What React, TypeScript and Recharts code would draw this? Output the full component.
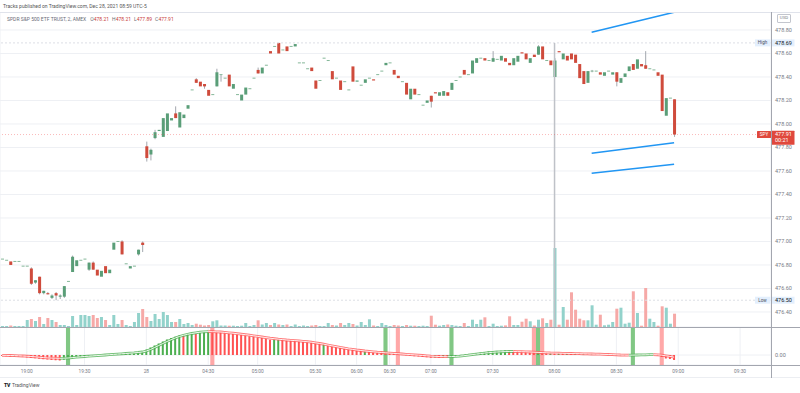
import React from 'react';
import { ComposedChart, Bar, Line, XAxis, YAxis, CartesianGrid, ReferenceLine, ReferenceArea, Cell } from 'recharts';

// ---------- DATA ----------
const OPEN = [
  476.85, 476.84, 476.83, 476.83, 476.83, 476.79, 476.79, 476.77, 476.65, 476.70,
  476.56, 476.56, 476.52, 476.56, 476.53, 476.53, 476.66, 476.74, 476.79, 476.84,
  476.85, 476.76, 476.82, 476.76, 476.70, 476.79, 476.73, 476.93, 477.00, 477.00,
  476.81, 476.77, 476.79, 476.89, 476.99, 477.81, 477.74, 477.88, 477.94, 477.89,
  477.94, 478.03, 478.09, 477.97, 478.05, 478.13, 478.29, 478.38, 478.36, 478.34,
  478.29, 478.25, 478.32, 478.42, 478.39, 478.42, 478.30, 478.25, 478.20, 478.25,
  478.30, 478.39, 478.46, 478.43, 478.50, 478.62, 478.66, 478.69, 478.63, 478.66,
  478.66, 478.66, 478.52, 478.52, 478.47, 478.48, 478.37, 478.37, 478.56, 478.54,
  478.45, 478.39, 478.37, 478.36, 478.29, 478.49, 478.36, 478.33, 478.35, 478.39,
  478.38, 478.42, 478.45, 478.50, 478.52, 478.46, 478.41, 478.36, 478.35, 478.21,
  478.30, 478.25, 478.16, 478.18, 478.24, 478.27, 478.24, 478.24, 478.27, 478.29,
  478.37, 478.40, 478.46, 478.42, 478.43, 478.52, 478.56, 478.56, 478.54, 478.53,
  478.55, 478.54, 478.56, 478.52, 478.50, 478.53, 478.61, 478.60, 478.52, 478.59,
  478.59, 478.66, 478.54, 478.54, 478.40, 478.62, 478.55, 478.58, 478.60, 478.59,
  478.51, 478.45, 478.35, 478.45, 478.45, 478.44, 478.41, 478.45, 478.42, 478.44,
  478.35, 478.40, 478.45, 478.51, 478.47, 478.51, 478.50, 478.47, 478.46, 478.44,
  478.42, 478.07, 478.22, 478.21,
];
const HIGH = [
  476.85, 476.84, 476.83, 476.83, 476.83, 476.79, 476.79, 476.78, 476.67, 476.70,
  476.58, 476.57, 476.55, 476.57, 476.55, 476.62, 476.66, 476.88, 476.84, 476.84,
  476.85, 476.82, 476.83, 476.76, 476.75, 476.79, 476.76, 476.99, 477.00, 477.01,
  476.81, 476.79, 476.79, 476.93, 477.00, 477.85, 477.79, 477.95, 477.95, 478.05,
  478.09, 478.05, 478.15, 478.10, 478.08, 478.16, 478.29, 478.39, 478.36, 478.34,
  478.29, 478.25, 478.47, 478.42, 478.39, 478.42, 478.34, 478.25, 478.25, 478.31,
  478.30, 478.39, 478.48, 478.48, 478.50, 478.62, 478.66, 478.69, 478.63, 478.66,
  478.66, 478.68, 478.52, 478.52, 478.47, 478.48, 478.37, 478.37, 478.56, 478.54,
  478.45, 478.39, 478.37, 478.36, 478.29, 478.49, 478.37, 478.33, 478.38, 478.39,
  478.38, 478.42, 478.45, 478.52, 478.52, 478.46, 478.41, 478.36, 478.35, 478.30,
  478.30, 478.25, 478.16, 478.20, 478.24, 478.27, 478.27, 478.28, 478.27, 478.35,
  478.37, 478.40, 478.46, 478.42, 478.54, 478.56, 478.56, 478.56, 478.54, 478.62,
  478.55, 478.58, 478.56, 478.52, 478.56, 478.58, 478.61, 478.60, 478.56, 478.59,
  478.67, 478.66, 478.54, 478.54, 478.56, 478.62, 478.60, 478.58, 478.60, 478.59,
  478.51, 478.45, 478.45, 478.46, 478.45, 478.44, 478.44, 478.45, 478.44, 478.44,
  478.39, 478.43, 478.49, 478.51, 478.55, 478.51, 478.62, 478.47, 478.46, 478.44,
  478.42, 478.22, 478.22, 478.21,
];
const LOW = [
  476.85, 476.84, 476.80, 476.83, 476.83, 476.79, 476.79, 476.63, 476.64, 476.55,
  476.55, 476.55, 476.51, 476.50, 476.51, 476.52, 476.66, 476.74, 476.79, 476.84,
  476.85, 476.75, 476.76, 476.71, 476.70, 476.73, 476.73, 476.93, 477.00, 476.89,
  476.81, 476.77, 476.79, 476.88, 476.91, 477.68, 477.69, 477.87, 477.94, 477.89,
  477.94, 478.03, 478.05, 477.97, 478.05, 478.13, 478.29, 478.35, 478.32, 478.30,
  478.24, 478.25, 478.32, 478.36, 478.39, 478.32, 478.30, 478.25, 478.20, 478.25,
  478.30, 478.39, 478.43, 478.43, 478.50, 478.60, 478.66, 478.60, 478.63, 478.62,
  478.66, 478.66, 478.52, 478.52, 478.47, 478.45, 478.30, 478.37, 478.56, 478.54,
  478.38, 478.39, 478.29, 478.36, 478.29, 478.36, 478.36, 478.33, 478.35, 478.39,
  478.37, 478.42, 478.45, 478.50, 478.52, 478.42, 478.39, 478.36, 478.25, 478.21,
  478.25, 478.25, 478.16, 478.18, 478.14, 478.26, 478.24, 478.24, 478.24, 478.29,
  478.37, 478.40, 478.42, 478.42, 478.43, 478.52, 478.56, 478.54, 478.54, 478.53,
  478.55, 478.54, 478.53, 478.50, 478.50, 478.53, 478.60, 478.55, 478.52, 478.57,
  478.59, 478.55, 478.54, 478.50, 478.40, 478.61, 478.55, 478.54, 478.55, 478.52,
  478.39, 478.34, 478.35, 478.44, 478.45, 478.42, 478.41, 478.45, 478.42, 478.32,
  478.35, 478.40, 478.45, 478.46, 478.47, 478.49, 478.47, 478.47, 478.46, 478.41,
  478.11, 478.07, 478.22, 477.89,
];
const CLOSE = [
  476.85, 476.84, 476.80, 476.83, 476.83, 476.79, 476.79, 476.64, 476.67, 476.56,
  476.58, 476.55, 476.54, 476.54, 476.54, 476.62, 476.66, 476.87, 476.84, 476.84,
  476.85, 476.82, 476.76, 476.71, 476.75, 476.73, 476.76, 476.99, 477.00, 476.89,
  476.81, 476.79, 476.79, 476.93, 476.97, 477.71, 477.78, 477.93, 477.95, 478.05,
  478.09, 478.05, 478.05, 478.10, 478.08, 478.16, 478.29, 478.35, 478.32, 478.32,
  478.24, 478.25, 478.44, 478.42, 478.39, 478.32, 478.34, 478.25, 478.25, 478.31,
  478.30, 478.39, 478.43, 478.48, 478.50, 478.60, 478.66, 478.60, 478.63, 478.62,
  478.66, 478.68, 478.52, 478.52, 478.47, 478.45, 478.30, 478.37, 478.56, 478.54,
  478.38, 478.39, 478.29, 478.36, 478.29, 478.36, 478.37, 478.33, 478.38, 478.39,
  478.37, 478.42, 478.45, 478.52, 478.52, 478.42, 478.39, 478.36, 478.25, 478.30,
  478.25, 478.25, 478.16, 478.20, 478.19, 478.26, 478.27, 478.28, 478.24, 478.35,
  478.37, 478.40, 478.42, 478.42, 478.54, 478.56, 478.56, 478.54, 478.54, 478.56,
  478.55, 478.58, 478.53, 478.50, 478.56, 478.58, 478.60, 478.55, 478.56, 478.57,
  478.66, 478.55, 478.54, 478.50, 478.54, 478.61, 478.60, 478.54, 478.55, 478.52,
  478.39, 478.34, 478.45, 478.45, 478.45, 478.42, 478.44, 478.45, 478.44, 478.36,
  478.39, 478.43, 478.49, 478.46, 478.55, 478.49, 478.47, 478.47, 478.46, 478.41,
  478.11, 478.22, 478.22, 477.91,
];
// volume, thousands of shares
const VOLUME = [
  10, 10, 15, 10, 10, 10, 70, 80, 60, 100,
  30, 90, 70, 50, 20, 20, 10, 110, 20, 120,
  120, 110, 120, 90, 100, 70, 20, 120, 30, 70,
  20, 10, 50, 140, 180, 100, 60, 130, 80, 150,
  120, 50, 50, 80, 30, 40, 20, 33, 23, 15,
  20, 57, 67, 15, 15, 13, 13, 10, 13, 40,
  10, 20, 67, 25, 40, 20, 40, 25, 20, 25,
  10, 25, 10, 15, 10, 15, 20, 10, 10, 40,
  20, 15, 40, 20, 40, 30, 15, 50, 20, 77,
  15, 10, 40, 20, 10, 20, 15, 10, 20, 13,
  13, 10, 13, 10, 113, 23, 13, 20, 25, 20,
  13, 10, 40, 10, 73, 30, 73, 97, 10, 33,
  10, 13, 16, 107, 20, 20, 53, 83, 57, 15,
  73, 87, 40, 73, 790, 23, 200, 73, 347, 173,
  83, 67, 67, 217, 23, 123, 17, 23, 50, 183,
  193, 33, 43, 357, 140, 13, 390, 83, 50, 13,
  207, 193, 33, 133,
];
const OSC_HIST = [
  -0.010, -0.012, -0.015, -0.015, -0.018, -0.020, -0.024, -0.030, -0.033, -0.038,
  -0.042, -0.046, -0.050, -0.053, -0.055, -0.048, -0.040, -0.033, -0.026, -0.020,
  -0.015, -0.010, -0.006, -0.003, 0.000, 0.003, 0.006, 0.010, 0.013, 0.016,
  0.019, 0.021, 0.023, 0.028, 0.036, 0.055, 0.075, 0.095, 0.115, 0.135,
  0.155, 0.170, 0.183, 0.195, 0.193, 0.205, 0.213, 0.210, 0.223, 0.230,
  0.233, 0.228, 0.225, 0.222, 0.218, 0.213, 0.209, 0.204, 0.199, 0.194,
  0.188, 0.182, 0.176, 0.170, 0.160, 0.152, 0.154, 0.156, 0.151, 0.146,
  0.143, 0.140, 0.136, 0.132, 0.127, 0.121, 0.114, 0.107, 0.109, 0.095,
  0.086, 0.078, 0.070, 0.063, 0.056, 0.050, 0.044, 0.039, 0.041, 0.032,
  0.028, 0.024, 0.021, 0.018, 0.015, 0.010, 0.006, 0.002, -0.003, -0.008,
  -0.012, -0.016, -0.020, -0.023, -0.027, -0.026, -0.028, -0.025, -0.027, -0.022,
  -0.016, -0.010, -0.004, 0.003, 0.010, 0.017, 0.023, 0.029, 0.034, 0.038,
  0.041, 0.043, 0.044, 0.042, 0.040, 0.037, 0.034, 0.031, 0.028, 0.026,
  0.027, 0.023, 0.020, 0.021, 0.018, 0.019, 0.015, 0.016, 0.013, 0.014,
  0.010, 0.011, 0.007, 0.008, 0.005, 0.006, 0.002, 0.003, -0.002, -0.006,
  -0.004, -0.008, -0.005, 0.002, 0.004, 0.006, 0.005, 0.007, 0.004, -0.005,
  -0.020, -0.035, -0.040, -0.050,
];
const OSC_SIGNAL = [
  -0.003, -0.004, -0.005, -0.006, -0.008, -0.010, -0.012, -0.015, -0.018, -0.022,
  -0.026, -0.029, -0.031, -0.032, -0.033, -0.032, -0.030, -0.026, -0.022, -0.018,
  -0.015, -0.012, -0.009, -0.006, -0.003, 0.000, 0.003, 0.006, 0.009, 0.012,
  0.015, 0.018, 0.021, 0.025, 0.030, 0.040, 0.055, 0.075, 0.095, 0.115,
  0.135, 0.153, 0.170, 0.185, 0.197, 0.207, 0.215, 0.222, 0.228, 0.232,
  0.234, 0.233, 0.232, 0.230, 0.226, 0.222, 0.218, 0.213, 0.208, 0.203,
  0.198, 0.192, 0.186, 0.180, 0.174, 0.168, 0.163, 0.158, 0.154, 0.150,
  0.147, 0.144, 0.141, 0.137, 0.133, 0.128, 0.122, 0.115, 0.108, 0.100,
  0.092, 0.084, 0.076, 0.069, 0.062, 0.056, 0.050, 0.045, 0.040, 0.036,
  0.032, 0.028, 0.025, 0.022, 0.019, 0.016, 0.013, 0.010, 0.007, 0.004,
  0.001, -0.002, -0.005, -0.008, -0.011, -0.013, -0.015, -0.016, -0.017, -0.016,
  -0.014, -0.011, -0.007, -0.002, 0.004, 0.009, 0.014, 0.019, 0.023, 0.027,
  0.030, 0.032, 0.034, 0.035, 0.035, 0.034, 0.033, 0.032, 0.030, 0.028,
  0.026, 0.024, 0.022, 0.020, 0.019, 0.018, 0.017, 0.016, 0.015, 0.014,
  0.013, 0.012, 0.011, 0.010, 0.009, 0.008, 0.006, 0.005, 0.004, 0.002,
  0.000, -0.001, -0.002, -0.001, 0.000, 0.001, 0.002, 0.003, 0.003, 0.002,
  -0.002, -0.008, -0.014, -0.022,
];
const SIGNAL_UP_BARS = [16, 93, 109, 130, 153];
const SIGNAL_DOWN_BARS = [51, 96, 129, 131, 160];
const TIME_TICKS = [6, 20, 35, 50, 62, 76, 86, 94, 104, 119, 134, 149, 164, 179];
const TIME_LABELS = ['19:00', '19:30', '28', '04:30', '05:00', '05:30', '06:00', '06:30', '07:00', '07:30', '08:00', '08:30', '09:00', '09:30'];
const PRICE_TICKS = [476.4, 476.6, 476.8, 477.0, 477.2, 477.4, 477.6, 477.8, 478.0, 478.2, 478.4, 478.6, 478.8];
const PRICE_DOMAIN = [476.272, 478.953];
const OSC_DOMAIN = [-0.1, 0.28];
const SLOTS = 187;
const MARKED_BAR = 134;
// trend lines: [fromIndex, fromPrice, toIndex, toPrice]
const TREND_LINES = [
  [143, 478.955, 163, 479.125],
  [143, 478.78, 163, 478.951],
  [143, 477.751, 163, 477.841],
  [143, 477.58, 163, 477.657],
];
const SYMBOL = 'SPDR S&P 500 ETF TRUST, 2, AMEX';
const PUBLISHED = 'Tracks published on TradingView.com, Dec 28, 2021 08:59 UTC-5';
const COUNTDOWN = '00:21';

// ---------- STYLE ----------
const UP = '#5a9e78';
const DOWN = '#cf4b3c';
const FLAT = '#86b89a';
const WICK = '#a3a7ae';
const VOL_UP = '#92d2cb';
const VOL_DOWN = '#f6a9a7';
const GRID = '#eef0f4';
const AXIS_TEXT = '#787b86';
const OSC_UP = '#4caf50';
const OSC_DOWN = '#ff5252';
const FONT = 'Roboto, "Noto Sans", sans-serif';

const N = OPEN.length;
const rows = Array.from({ length: SLOTS }, (_, i) => {
  if (i >= N) return { i, range: null, o: null, h: null, l: null, c: null, vol: null, hist: null, sigUp: null, sigDown: null };
  const rising = (k: number) => k > 0 && k < N && OSC_SIGNAL[k] >= OSC_SIGNAL[k - 1];
  const falling = (k: number) => k > 0 && k < N && OSC_SIGNAL[k] < OSC_SIGNAL[k - 1];
  return {
    i,
    range: [LOW[i] - 0.001, HIGH[i] + 0.001],
    o: OPEN[i], h: HIGH[i], l: LOW[i], c: CLOSE[i],
    vol: VOLUME[i],
    hist: OSC_HIST[i],
    histUp: i === 0 ? false : OSC_HIST[i] >= OSC_HIST[i - 1],
    sigUp: rising(i) || rising(i + 1) ? OSC_SIGNAL[i] : null,
    sigDown: falling(i) || falling(i + 1) ? OSC_SIGNAL[i] : null,
  };
});

const LAST = N - 1;
const HI_VAL = Math.max(...HIGH);
const LO_VAL = Math.min(...LOW);

function CandleShape(props: any) {
  const { x, y, width, height, payload } = props;
  if (!payload || payload.o == null) return <g />;
  const top = Math.min(y, y + height);
  const bottom = Math.max(y, y + height);
  const [r0, r1] = payload.range;
  const toY = (v: number) => top + ((r1 - v) / (r1 - r0)) * (bottom - top);
  const cx = x + width / 2;
  const { o, h, l, c } = payload;
  const flat = Math.abs(o - c) < 0.004;
  const color = flat ? FLAT : c > o ? UP : DOWN;
  const yo = toY(o);
  const yc = toY(c);
  const bodyTop = flat ? yo - 0.5 : Math.min(yo, yc);
  const bodyH = Math.max(Math.abs(yo - yc), 1);
  const hasWick = h - Math.max(o, c) > 0.004 || Math.min(o, c) - l > 0.004;
  return (
    <g>
      {hasWick && <line x1={cx} x2={cx} y1={toY(h)} y2={toY(l)} stroke={WICK} strokeWidth={1} />}
      <rect x={x} y={bodyTop} width={width} height={bodyH} fill={color} />
    </g>
  );
}

function AxisTag(props: any) {
  const { viewBox, kind, value } = props;
  if (!viewBox) return null;
  const y = viewBox.y;
  const xr = viewBox.x + viewBox.width;
  if (kind === 'last') {
    return (
      <g>
        <rect x={xr - 14} y={y - 3.5} width={14} height={7} fill="#e0483c" rx={0.5} />
        <text x={xr - 7} y={y + 0.3} fontSize={4.6} fill="#fff" textAnchor="middle" dominantBaseline="middle">SPY</text>
        <rect x={xr + 0.5} y={y - 3.8} width={23} height={14} fill="#e0483c" rx={0.5} />
        <text x={xr + 4} y={y + 0.3} fontSize={5.5} fill="#fff" dominantBaseline="middle">{value.toFixed(2)}</text>
        <text x={xr + 4} y={y + 6.3} fontSize={5.5} fill="#fff" dominantBaseline="middle">{COUNTDOWN}</text>
      </g>
    );
  }
  const label = kind === 'high' ? 'High' : 'Low';
  return (
    <g>
      <rect x={xr - 16} y={y - 3.5} width={15.5} height={7} fill="#e3effd" />
      <text x={xr - 8.5} y={y + 0.3} fontSize={4.6} fill="#4a4e59" textAnchor="middle" dominantBaseline="middle">{label}</text>
      <rect x={xr + 0.5} y={y - 3.5} width={23} height={7} fill="#e3effd" />
      <text x={xr + 4} y={y + 0.3} fontSize={5.5} fill="#131722" dominantBaseline="middle">{value.toFixed(2)}</text>
    </g>
  );
}

const abs = (left: number, top: number, extra: any = {}) => ({ position: 'absolute' as const, left, top, ...extra });

export default function App() {
  const last = { o: OPEN[LAST], h: HIGH[LAST], l: LOW[LAST], c: CLOSE[LAST] };
  return (
    <div style={abs(0, 0, { width: 800, height: 393, background: '#fff', fontFamily: FONT, overflow: 'hidden' })}>
      {/* price pane: grid + volume */}
      <div style={abs(0, 12)}>
        <ComposedChart width={800} height={315} data={rows} margin={{ top: 0, right: 0, bottom: 0, left: 0 }}>
          <CartesianGrid stroke={GRID} />
          <XAxis dataKey="i" type="category" ticks={TIME_TICKS} interval={0} tick={false} axisLine={false} tickLine={false} height={0} />
          <YAxis orientation="right" width={29} type="number" domain={PRICE_DOMAIN} allowDataOverflow ticks={PRICE_TICKS}
            tickFormatter={(v: number) => v.toFixed(2)} tick={{ fontSize: 5.5, fill: AXIS_TEXT }} tickLine={false} axisLine={false} tickSize={2} tickMargin={2} />
          <YAxis yAxisId="v" hide type="number" domain={[0, 3150]} />
          <Bar yAxisId="v" dataKey="vol" barSize={3} isAnimationActive={false}>
            {rows.map((r: any, k) => <Cell key={k} fill={r.c != null && r.c < r.o ? VOL_DOWN : VOL_UP} />)}
          </Bar>
        </ComposedChart>
      </div>
      {/* price pane: candles + drawings */}
      <div style={abs(0, 12)}>
        <ComposedChart width={800} height={315} data={rows} margin={{ top: 0, right: 0, bottom: 0, left: 0 }}>
          <XAxis dataKey="i" type="category" ticks={TIME_TICKS} interval={0} tick={false} axisLine={false} tickLine={false} height={0} />
          <YAxis orientation="right" width={29} type="number" domain={PRICE_DOMAIN} allowDataOverflow tick={false} tickLine={false} axisLine={false} />
          <ReferenceLine y={HI_VAL} stroke="#dcdfe5" strokeDasharray="2 2" label={<AxisTag kind="high" value={HI_VAL} />} />
          <ReferenceLine y={LO_VAL} stroke="#dcdfe5" strokeDasharray="2 2" label={<AxisTag kind="low" value={LO_VAL} />} />
          <ReferenceLine segment={[{ x: MARKED_BAR, y: HI_VAL }, { x: MARKED_BAR, y: PRICE_DOMAIN[0] }]} stroke="#bfc2c8" strokeWidth={1.5} ifOverflow="hidden" />
          <Bar dataKey="range" barSize={3} shape={CandleShape} isAnimationActive={false} />
          <ReferenceLine y={last.c} stroke="#ef5350" strokeOpacity={0.4} strokeDasharray="1 2" label={<AxisTag kind="last" value={last.c} />} />
          {TREND_LINES.map((t, k) => (
            <ReferenceLine key={k} segment={[{ x: t[0], y: t[1] }, { x: t[2], y: t[3] }]} stroke="#2196f3" strokeWidth={1.5} ifOverflow="hidden" />
          ))}
        </ComposedChart>
      </div>
      {/* oscillator pane */}
      <div style={abs(0, 327)}>
        <ComposedChart width={800} height={51} data={rows} margin={{ top: 0, right: 0, bottom: 0, left: 0 }}>
          <CartesianGrid stroke={GRID} />
          <XAxis dataKey="i" type="category" ticks={TIME_TICKS} interval={0} height={13}
            tickFormatter={(v: number) => TIME_LABELS[TIME_TICKS.indexOf(v)]}
            tick={{ fontSize: 4.8, fill: AXIS_TEXT }} tickLine={false} axisLine={false} tickSize={2} tickMargin={3} />
          <YAxis orientation="right" width={29} type="number" domain={OSC_DOMAIN} allowDataOverflow ticks={[0]}
            tickFormatter={(v: number) => v.toFixed(2)} tick={{ fontSize: 5.5, fill: AXIS_TEXT }} tickLine={false} axisLine={false} tickSize={2} tickMargin={2} />
          {SIGNAL_UP_BARS.map((b) => <ReferenceArea key={'u' + b} x1={b} x2={b} fill={OSC_UP} fillOpacity={0.7} stroke="none" />)}
          {SIGNAL_DOWN_BARS.map((b) => <ReferenceArea key={'d' + b} x1={b} x2={b} fill={OSC_DOWN} fillOpacity={0.5} stroke="none" />)}
          <Bar dataKey="hist" barSize={2} isAnimationActive={false}>
            {rows.map((r: any, k) => <Cell key={k} fill={r.histUp ? OSC_UP : OSC_DOWN} />)}
          </Bar>
          <Line dataKey="sigUp" stroke={OSC_UP} strokeWidth={2.8} dot={false} isAnimationActive={false} strokeOpacity={0.8} />
          <Line dataKey="sigDown" stroke={OSC_DOWN} strokeWidth={2.8} dot={false} isAnimationActive={false} strokeOpacity={0.8} />
          <Line dataKey="sigUp" stroke="#ffffff" strokeWidth={0.9} dot={false} isAnimationActive={false} />
          <Line dataKey="sigDown" stroke="#ffffff" strokeWidth={0.9} dot={false} isAnimationActive={false} />
        </ComposedChart>
      </div>
      {/* frame lines */}
      <div style={abs(0, 11.5, { width: 800, height: 1, background: '#e0e3eb' })} />
      <div style={abs(0, 326.5, { width: 800, height: 1, background: '#a3a6af' })} />
      <div style={abs(0, 364.5, { width: 800, height: 1, background: '#a3a6af' })} />
      <div style={abs(0, 377, { width: 800, height: 1, background: '#eceef2' })} />
      <div style={abs(770.5, 12, { width: 1, height: 366, background: '#a3a6af' })} />
      {/* USD box */}
      <div style={abs(777, 14, { width: 12, height: 6.5, border: '0.5px solid #c3c6ce', borderRadius: 1, fontSize: 4.4, color: AXIS_TEXT, lineHeight: '6.5px', textAlign: 'center' })}>USD</div>
      {/* header */}
      <div style={abs(3, 3, { fontSize: 5, color: '#555', whiteSpace: 'nowrap', lineHeight: '6px' })}>{PUBLISHED}</div>
      <div style={abs(7, 15.5, { fontSize: 5, color: '#6a6d78', whiteSpace: 'nowrap', lineHeight: '6px' })}>
        <span>{SYMBOL}</span>
        <span style={{ marginLeft: 4 }}>O<span style={{ color: '#c9413a' }}>{last.o.toFixed(2)}</span></span>
        <span style={{ marginLeft: 3 }}>H<span style={{ color: '#c9413a' }}>{last.h.toFixed(2)}</span></span>
        <span style={{ marginLeft: 3 }}>L<span style={{ color: '#c9413a' }}>{last.l.toFixed(2)}</span></span>
        <span style={{ marginLeft: 3 }}>C<span style={{ color: '#c9413a' }}>{last.c.toFixed(2)}</span></span>
      </div>
      {/* footer logo */}
      <div style={abs(4, 382, { fontSize: 5, color: '#555', whiteSpace: 'nowrap', lineHeight: '6px' })}>
        <span style={{ fontWeight: 900, color: '#131722', letterSpacing: -0.3 }}>TV</span>
        <span style={{ marginLeft: 2 }}>TradingView</span>
      </div>
    </div>
  );
}
